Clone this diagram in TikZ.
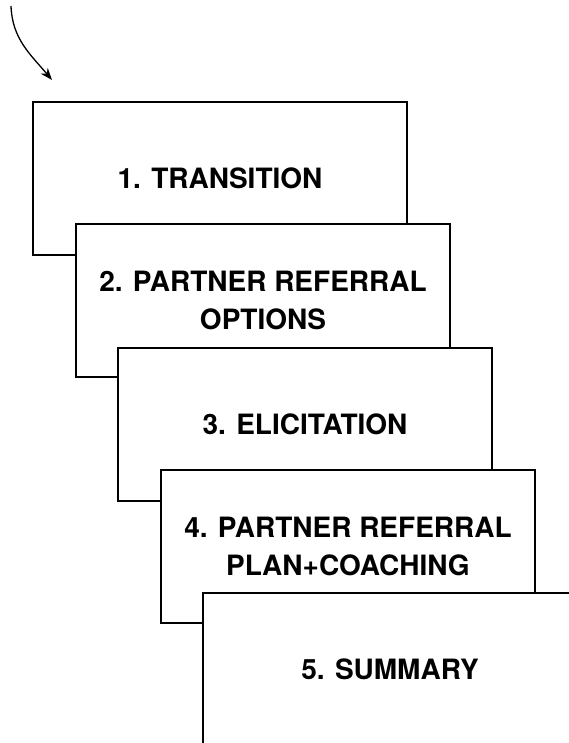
\documentclass[tikz,border=0pt]{standalone}
\usepackage{fontspec}
\setmainfont{TeX Gyre Heros}
\usetikzlibrary{arrows.meta}
\tikzset{
  stepbox/.style={draw=black, fill=white, line width=2pt, rectangle, anchor=north west,
    minimum width=374pt, minimum height=153pt, inner sep=0pt, align=center,
    font=\fontsize{28}{38}\selectfont\bfseries},
  flowarrow/.style={line width=1.3pt, -{Stealth[length=12pt,width=9pt]}}
}
\begin{document}
\begin{tikzpicture}[x=1pt,y=-1pt]
\useasboundingbox (0,0) rectangle (569,743);
\coordinate (s) at (11,6);
\coordinate (e) at (52,80);
\draw[flowarrow] (s) to[out=-88,in=130] (e);
\node[stepbox] (b1) at (32,101) {1. TRANSITION};
\node[stepbox] (b2) at (75,223) {2. PARTNER REFERRAL\\OPTIONS};
\node[stepbox] (b3) at (117,347) {3. ELICITATION};
\node[stepbox] (b4) at (160,469) {4. PARTNER REFERRAL\\PLAN+COACHING};
\node[stepbox] (b5) at (202,592) {5. SUMMARY};
\end{tikzpicture}
\end{document}
